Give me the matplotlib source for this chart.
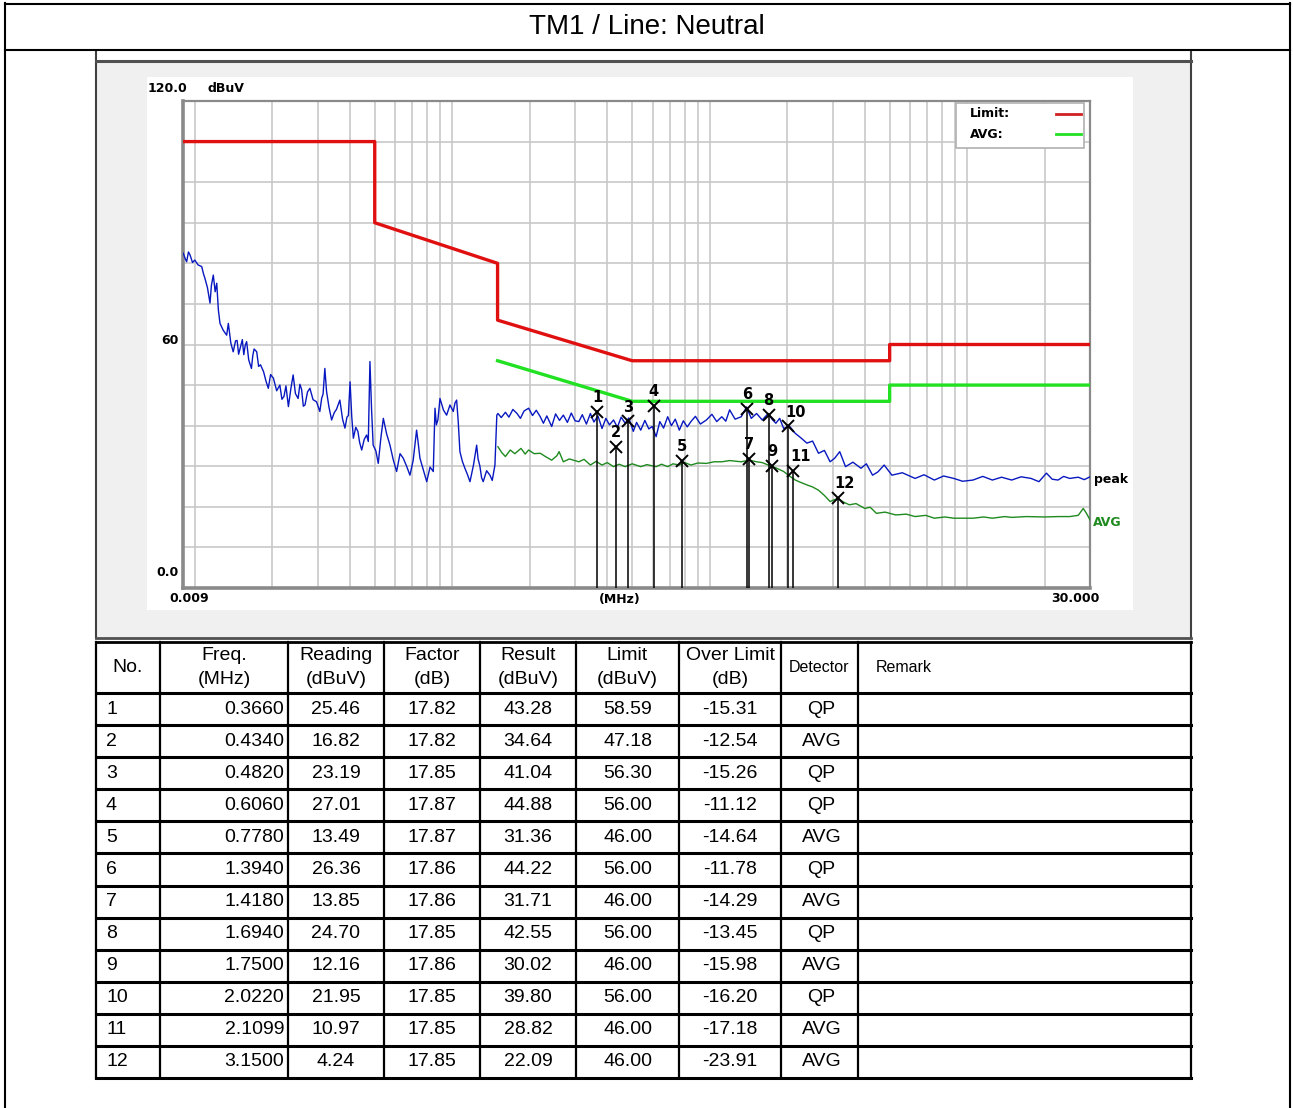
import matplotlib
matplotlib.use("Agg")
import matplotlib.pyplot as plt
import numpy as np
from matplotlib.patches import Rectangle
from matplotlib.ticker import LogLocator, FixedLocator

W, H = 1293, 1108

# ---- limit lines (MHz, dBuV)
qp_limit_f = [0.009, 0.05, 0.05, 0.15, 0.15, 0.5, 5, 5, 30]
qp_limit_db = [110, 110, 90, 80, 66, 56, 56, 60, 60]
avg_limit_f = [0.15, 0.5, 5, 5, 30]
avg_limit_db = [56, 46, 46, 50, 50]

# ---- peak trace
peak_f = [0.00902, 0.0092, 0.0093, 0.00945, 0.00958, 0.0098, 0.0100, 0.0103, 0.01064, 0.01080,
          0.01095, 0.0112, 0.01146, 0.0116, 0.0118, 0.0120, 0.01217, 0.01235, 0.01253, 0.0129,
          0.0133, 0.0135, 0.0138, 0.0141, 0.0144, 0.0146, 0.0148, 0.0150, 0.0153, 0.0155, 0.0157,
          0.0159, 0.0162, 0.0166, 0.0168, 0.0170, 0.0174, 0.0177, 0.0180, 0.0185, 0.0189, 0.0193,
          0.0197, 0.0202, 0.0208, 0.0214, 0.0218, 0.0222, 0.0226, 0.0231, 0.0236, 0.0241, 0.0246,
          0.0252, 0.0256, 0.0260, 0.0264, 0.0268, 0.0274, 0.0280, 0.0288, 0.0297, 0.0306, 0.0311,
          0.0315, 0.0320, 0.0325, 0.0332, 0.0340, 0.0348, 0.0355, 0.0366, 0.0375, 0.0383, 0.0390,
          0.0395, 0.0401, 0.0407, 0.0413, 0.0422, 0.0430, 0.0437, 0.0445, 0.0455, 0.0465, 0.0472,
          0.0479, 0.0486, 0.0493, 0.0505, 0.0516, 0.0528, 0.0540, 0.0556, 0.0573, 0.0590, 0.0608,
          0.0627, 0.0645, 0.0665, 0.0685, 0.0705, 0.0727, 0.0738, 0.0749, 0.0772, 0.0796, 0.0820,
          0.0844, 0.0857, 0.0868, 0.0880, 0.0896, 0.0925, 0.0951, 0.0980, 0.1009, 0.1025, 0.1040,
          0.1055, 0.1071, 0.1095, 0.1120, 0.1145, 0.1172, 0.1210, 0.1244, 0.1260, 0.1280, 0.1300,
          0.1319, 0.1360, 0.1401, 0.1430, 0.1465, 0.1490,
          0.1505, 0.1550, 0.1609, 0.1660, 0.1720, 0.1785, 0.1840, 0.1900, 0.1980, 0.2050, 0.2120,
          0.2197, 0.2260, 0.2330, 0.2434, 0.2520, 0.2610, 0.2701, 0.2800, 0.2900, 0.3000, 0.3102,
          0.3200, 0.3320, 0.3440, 0.3550, 0.3680, 0.3817, 0.3950, 0.4080, 0.4233, 0.4380, 0.4530,
          0.4696, 0.4850, 0.5050, 0.5200, 0.5397, 0.5600, 0.5800, 0.5980, 0.6193, 0.6400, 0.6620,
          0.6868, 0.7100, 0.7350, 0.7621, 0.7900, 0.8180, 0.8453, 0.8800, 0.9200, 0.9710, 1.0200,
          1.0650, 1.1140, 1.1550, 1.1950, 1.2550, 1.3260, 1.3900, 1.4500, 1.5210, 1.6000, 1.6870,
          1.7500, 1.8070, 1.8700, 1.9380, 2.0400, 2.1500, 2.2600, 2.3850, 2.5100, 2.6460, 2.7900,
          2.9350, 3.0600, 3.1990, 3.3690, 3.6000, 3.8690, 4.0600, 4.2910, 4.5000, 4.7600, 5.1010,
          5.6000, 6.2760, 6.8000, 7.4580, 8.1000, 8.8720, 9.6000, 10.540, 11.500, 12.530, 13.600,
          14.890, 16.200, 17.710, 19.000, 20.320, 21.400, 22.540, 23.700, 25.010, 27.000, 28.500,
          30.000]
peak_db = [82.5, 81.0, 80.4, 82.8, 82.1, 80.2, 80.8, 79.6, 79.2, 77.5,
           76.3, 74.0, 70.2, 74.5, 77.1, 73.0, 75.1, 68.5, 65.2, 63.5,
           62.3, 65.2, 60.4, 58.2, 60.9, 61.0, 57.6, 59.1, 61.2, 57.5, 59.8,
           60.7, 56.2, 54.1, 57.3, 58.9, 58.2, 54.6, 55.0, 53.3, 51.0, 49.2,
           52.6, 51.7, 48.6, 50.0, 46.5, 47.2, 49.8, 44.7, 49.0, 52.5, 47.9,
           46.7, 50.2, 48.9, 44.8, 45.1, 48.3, 49.2, 46.4, 45.9, 43.5, 46.7,
           47.8, 54.1, 48.4, 44.6, 41.4, 43.2, 44.0, 46.3, 41.6, 39.4, 42.1,
           42.5, 50.8, 42.3, 36.9, 39.6, 38.6, 35.8, 34.0, 36.6, 37.7, 36.1,
           55.8, 44.0, 35.2, 33.8, 30.7, 36.9, 41.8, 38.0, 35.2, 31.6, 28.7,
           33.1, 32.0, 30.0, 27.8, 31.4, 38.9, 35.6, 32.0, 29.1, 26.2, 29.8,
           28.7, 44.3, 40.2, 41.5, 46.7, 43.8, 42.6, 45.1, 43.5, 45.6, 46.3,
           41.0, 33.6, 31.2, 29.5, 28.0, 26.2, 30.4, 35.2, 31.8, 30.1, 27.2,
           26.2, 28.9, 27.8, 26.5, 30.3, 42.6,
           43.0, 42.0, 43.3, 42.1, 44.0, 43.0, 41.8, 43.6, 44.3, 42.5, 43.8,
           42.2, 40.6, 42.4, 39.8, 42.9, 41.3, 42.6, 40.8, 43.1, 41.2, 41.0,
           42.7, 40.4, 43.0, 40.9, 42.4, 39.3, 41.8, 40.2, 41.4, 39.6, 42.1,
           40.6, 41.9, 38.6, 40.8, 38.9, 41.3, 39.2, 39.8, 37.3, 41.0, 39.4,
           42.2, 40.0, 41.6, 38.9, 41.2, 39.7, 41.0, 42.3, 40.4, 41.4, 42.8,
           41.0, 42.2, 41.1, 43.9, 41.6, 42.2, 44.6, 41.8, 43.0, 41.4, 43.0,
           41.5, 40.6, 41.8, 39.3, 39.9, 38.1, 37.0, 35.7, 36.2, 33.2, 33.9,
           31.1, 32.0, 33.6, 29.9, 31.0, 29.5, 30.6, 27.8, 28.6, 30.3, 27.8,
           28.4, 27.0, 27.9, 26.6, 27.6, 27.0, 26.3, 26.6, 27.5, 26.6, 27.3,
           26.6, 27.4, 27.0, 26.2, 28.3, 26.8, 26.6, 27.5, 27.0, 27.3, 26.7,
           27.4]

# ---- average trace
avg_f = [0.1505, 0.1560, 0.1609, 0.1680, 0.1750, 0.1850, 0.1920, 0.1980, 0.2080, 0.2197,
         0.2300, 0.2434, 0.2550, 0.2600, 0.2701, 0.2850, 0.3102, 0.3250, 0.3440, 0.3620,
         0.3817, 0.4000, 0.4233, 0.4450, 0.4696, 0.5000, 0.5397, 0.5700, 0.6193, 0.6500,
         0.6868, 0.7200, 0.7621, 0.8000, 0.8453, 0.9000, 0.9710, 1.0400, 1.1140, 1.1950,
         1.3260, 1.4200, 1.5210, 1.6000, 1.6870, 1.7500, 1.8070, 1.9380, 2.0400, 2.1500,
         2.2600, 2.3850, 2.5100, 2.6460, 2.7900, 2.9350, 3.1450, 3.3000, 3.4870, 3.7000,
         4.0060, 4.2000, 4.4430, 4.8000, 5.2810, 5.8000, 6.2760, 6.9000, 7.4580, 8.2000,
         8.8720, 10.540, 11.600, 12.530, 14.000, 14.890, 17.000, 20.000, 22.540, 25.010,
         27.000, 28.240, 29.000, 30.000]
avg_db = [34.8, 33.3, 32.4, 34.0, 33.1, 34.4, 33.0, 34.0, 33.1, 33.2,
          32.4, 31.5, 32.6, 33.6, 31.1, 31.8, 31.1, 31.7, 30.3, 31.2,
          30.3, 30.9, 29.9, 30.5, 29.9, 30.6, 29.9, 30.4, 29.9, 30.5,
          29.9, 30.6, 30.3, 30.9, 30.3, 30.8, 30.7, 31.1, 31.1, 31.4,
          31.1, 31.5, 31.1, 30.9, 30.3, 29.9, 29.6, 28.7, 27.6, 26.6,
          26.0, 25.4, 24.9, 24.1, 22.8, 21.3, 22.1, 21.2, 20.5, 20.8,
          19.6, 19.9, 18.4, 18.7, 18.0, 18.2, 17.6, 17.9, 17.2, 17.5,
          17.2, 17.2, 17.5, 17.2, 17.6, 17.4, 17.6, 17.5, 17.6, 17.6,
          17.9, 19.6, 18.5, 16.8]

# ---- final measurement table
mk_no = [1, 2, 3, 4, 5, 6, 7, 8, 9, 10, 11, 12]
mk_freq = [0.3660, 0.4340, 0.4820, 0.6060, 0.7780, 1.3940, 1.4180, 1.6940, 1.7500, 2.0220, 2.1099, 3.1500]
mk_reading = [25.46, 16.82, 23.19, 27.01, 13.49, 26.36, 13.85, 24.70, 12.16, 21.95, 10.97, 4.24]
mk_factor = [17.82, 17.82, 17.85, 17.87, 17.87, 17.86, 17.86, 17.85, 17.86, 17.85, 17.85, 17.85]
mk_result = [43.28, 34.64, 41.04, 44.88, 31.36, 44.22, 31.71, 42.55, 30.02, 39.80, 28.82, 22.09]
mk_limit = [58.59, 47.18, 56.30, 56.00, 46.00, 56.00, 46.00, 56.00, 46.00, 56.00, 46.00, 46.00]
mk_over = [-15.31, -12.54, -15.26, -11.12, -14.64, -11.78, -14.29, -13.45, -15.98, -16.20, -17.18, -23.91]
mk_det = ["QP", "AVG", "QP", "QP", "AVG", "QP", "AVG", "QP", "AVG", "QP", "AVG", "AVG"]

headers = [("No.", None), ("Freq.", "(MHz)"), ("Reading", "(dBuV)"), ("Factor", "(dB)"),
           ("Result", "(dBuV)"), ("Limit", "(dBuV)"), ("Over Limit", "(dB)"), ("Detector", None),
           ("Remark", None)]
col_x = [96, 160, 288, 384, 480, 576, 679, 781, 858, 1191]

TXT = "Liberation Sans"
PLT = "DejaVu Sans"

fig = plt.figure(figsize=(W / 100, H / 100), dpi=100)
fig.patch.set_facecolor("white")

def px_axes(zorder, transparent=False):
    a = fig.add_axes([0, 0, 1, 1], zorder=zorder)
    a.set_xlim(0, W)
    a.set_ylim(H, 0)
    a.axis("off")
    if transparent:
        a.patch.set_alpha(0)
    return a

bg = px_axes(-1)
fg = px_axes(5, transparent=True)

# frames behind the chart
bg.add_patch(Rectangle((96, 60), 1095, 578, facecolor="#f0f0f0", edgecolor="none"))
bg.add_patch(Rectangle((147, 77), 986, 533, facecolor="white", edgecolor="none"))

# outer border + title
fg.plot([5, 5], [3, H], color="black", lw=1.5)
fg.plot([1290, 1290], [3, H], color="black", lw=1.5)
fg.plot([5, 1290], [3.5, 3.5], color="black", lw=1.5)
fg.plot([5, 1290], [50, 50], color="black", lw=1.5)
fg.text(647, 27, "TM1 / Line: Neutral", ha="center", va="center", fontsize=20, family=TXT)

# grey panel border
fg.plot([96, 96], [52, 638], color="#404040", lw=1.5)
fg.plot([1191, 1191], [52, 638], color="#404040", lw=1.5)
fg.plot([96, 1191], [61, 61], color="#505050", lw=2.2)
fg.plot([96, 1191], [638, 638], color="#505050", lw=2)

# ---- chart
ax = fig.add_axes([183 / W, 1 - 588 / H, 907 / W, 487 / H], zorder=0)
ax.set_xscale("log")
ax.set_xlim(0.009, 30)
ax.set_ylim(0, 120)
ax.xaxis.set_major_locator(LogLocator(base=10, subs=np.arange(1, 10), numticks=60))
ax.xaxis.set_minor_locator(FixedLocator([]))
ax.yaxis.set_major_locator(FixedLocator(np.arange(0, 121, 10)))
ax.tick_params(length=0, labelbottom=False, labelleft=False)
ax.grid(True, color="#c8c8c8", lw=1.2)
ax.set_axisbelow(True)
for s in ax.spines.values():
    s.set_color("#8a8a8a")
    s.set_linewidth(1.6)
ax.spines["left"].set_linewidth(2.6)
ax.spines["bottom"].set_linewidth(2.6)

ax.plot(qp_limit_f, qp_limit_db, color="#e01010", lw=2.4, zorder=4)
ax.plot(avg_limit_f, avg_limit_db, color="#22e022", lw=2.4, zorder=4)
ax.plot(peak_f, peak_db, color="#0818c0", lw=1.0, zorder=3)
ax.plot(avg_f, avg_db, color="#1f8a1f", lw=1.0, zorder=3)

ax.vlines(mk_freq, 0, mk_result, color="black", lw=1.1, zorder=5)
ax.plot(mk_freq, mk_result, "x", color="black", ms=8.5, mew=1.4, zorder=6)
for n, f, r in zip(mk_no, mk_freq, mk_result):
    dx = 5 if n >= 10 else 0
    ax.annotate(str(n), (f, r), xytext=(dx, 5), textcoords="offset points", ha="center",
                va="bottom", fontsize=10.5, fontweight="bold", family=PLT, zorder=7)

# legend box
ax.add_patch(Rectangle((0.852, 0.9035), 0.141, 0.0925, transform=ax.transAxes,
                       facecolor="white", edgecolor="#b0b0b0", lw=1.2, zorder=8))
ax.text(0.868, 0.974, "Limit:", transform=ax.transAxes, fontsize=9, fontweight="bold",
        family=PLT, va="center", zorder=9)
ax.text(0.868, 0.932, "AVG:", transform=ax.transAxes, fontsize=9, fontweight="bold",
        family=PLT, va="center", zorder=9)
ax.plot([0.963, 0.990], [0.974, 0.974], transform=ax.transAxes, color="#d02020", lw=2, zorder=9)
ax.plot([0.963, 0.990], [0.932, 0.932], transform=ax.transAxes, color="#22e022", lw=2, zorder=9)

# axis labels
lab = dict(fontsize=9, fontweight="bold", family=PLT, va="center")
fg.text(148, 88, "120.0", ha="left", **lab)
fg.text(208, 88, "dBuV", ha="left", **lab)
fg.text(179, 340, "60", ha="right", **lab)
fg.text(179, 573, "0.0", ha="right", **lab)
fg.text(189, 599, "0.009", ha="center", **lab)
fg.text(620, 599, "(MHz)", ha="center", **lab)
fg.text(1075, 599, "30.000", ha="center", **lab)
fg.text(1094, 479, "peak", ha="left", color="black", **lab)
fg.text(1093, 522, "AVG", ha="left", color="#1f8a1f", **lab)

# ---- table
top, head_bot = 642, 693
row_h = (1078 - head_bot) / len(mk_no)
bottom = head_bot + row_h * len(mk_no)
for x in col_x:
    fg.plot([x, x], [top, bottom], color="black", lw=1.6)
fg.plot([96, 1191], [top, top], color="black", lw=2)
fg.plot([96, 1191], [head_bot, head_bot], color="black", lw=2.2)
for i in range(1, len(mk_no) + 1):
    y = head_bot + row_h * i
    fg.plot([96, 1191], [y, y], color="black", lw=2.2)

for j, (a, b) in enumerate(headers):
    cx = (col_x[j] + col_x[j + 1]) / 2
    if j == 7:
        fg.text(cx, 667, a, ha="center", va="center", fontsize=11.5, family=TXT)
    elif j == 8:
        fg.text(876, 667, a, ha="left", va="center", fontsize=11.5, family=TXT)
    elif b is None:
        fg.text(cx, 667, a, ha="center", va="center", fontsize=14, family=TXT)
    else:
        fg.text(cx, 655, a, ha="center", va="center", fontsize=14, family=TXT)
        fg.text(cx, 679, b, ha="center", va="center", fontsize=14, family=TXT)

cell = dict(va="center", fontsize=14, family=TXT)
for i in range(len(mk_no)):
    y = head_bot + row_h * (i + 0.5)
    cxs = [(col_x[k] + col_x[k + 1]) / 2 for k in range(9)]
    fg.text(106, y, str(mk_no[i]), ha="left", **cell)
    fg.text(284, y, f"{mk_freq[i]:.4f}", ha="right", **cell)
    fg.text(cxs[2], y, f"{mk_reading[i]:.2f}", ha="center", **cell)
    fg.text(cxs[3], y, f"{mk_factor[i]:.2f}", ha="center", **cell)
    fg.text(cxs[4], y, f"{mk_result[i]:.2f}", ha="center", **cell)
    fg.text(cxs[5], y, f"{mk_limit[i]:.2f}", ha="center", **cell)
    fg.text(cxs[6], y, f"{mk_over[i]:.2f}", ha="center", **cell)
    fg.text(cxs[7] + 2, y, mk_det[i], ha="center", **cell)

fig.savefig("out.png", dpi=100)
